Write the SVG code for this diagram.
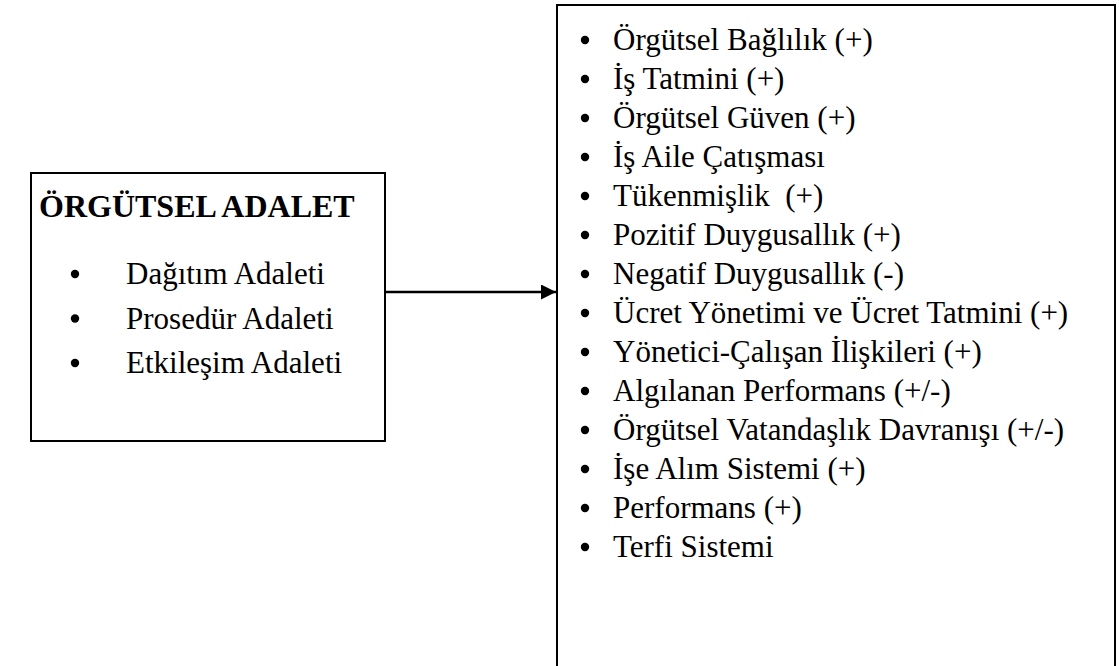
<svg xmlns="http://www.w3.org/2000/svg" width="1119" height="666" viewBox="0 0 1119 666">
  <style>
    .box { fill: #ffffff; stroke: #000000; stroke-width: 2; }
    .txt { font-family: "Liberation Serif", "Times New Roman", serif; font-size: 31px; fill: #000000; }
    .title { font-family: "Liberation Serif", "Times New Roman", serif; font-size: 32px; font-weight: bold; fill: #000000; }
    .dot { fill: #000000; }
    .link { stroke: #000000; stroke-width: 2.5; fill: none; }
  </style>
  <defs>
    <marker id="arrowhead" viewBox="0 0 10 10" refX="10" refY="5" markerWidth="6" markerHeight="6" orient="auto" markerUnits="strokeWidth">
      <path d="M0,0 L10,5 L0,10 Z" fill="#000000"/>
    </marker>
  </defs>
  <rect width="1119" height="666" fill="#ffffff"/>

  <!-- source concept -->
  <g id="orgutsel-adalet">
    <rect class="box" x="31" y="173" width="354" height="268"/>
    <text class="title" x="39" y="217">ÖRGÜTSEL ADALET</text>
    <circle class="dot" cx="75" cy="274" r="4.2"/>
    <text class="txt" x="126" y="284">Dağıtım Adaleti</text>
    <circle class="dot" cx="75" cy="318.5" r="4.2"/>
    <text class="txt" x="126" y="328.5">Prosedür Adaleti</text>
    <circle class="dot" cx="75" cy="363" r="4.2"/>
    <text class="txt" x="126" y="373">Etkileşim Adaleti</text>
  </g>

  <!-- outcomes -->
  <g id="sonuclar">
    <rect class="box" x="557" y="5" width="558" height="680"/>
    <g class="dot">
      <circle cx="585" cy="40" r="4.2"/>
      <circle cx="585" cy="79" r="4.2"/>
      <circle cx="585" cy="118" r="4.2"/>
      <circle cx="585" cy="157" r="4.2"/>
      <circle cx="585" cy="196" r="4.2"/>
      <circle cx="585" cy="235" r="4.2"/>
      <circle cx="585" cy="274" r="4.2"/>
      <circle cx="585" cy="313" r="4.2"/>
      <circle cx="585" cy="352" r="4.2"/>
      <circle cx="585" cy="391" r="4.2"/>
      <circle cx="585" cy="430" r="4.2"/>
      <circle cx="585" cy="469" r="4.2"/>
      <circle cx="585" cy="508" r="4.2"/>
      <circle cx="585" cy="547" r="4.2"/>
    </g>
    <text class="txt" x="613" y="50">Örgütsel Bağlılık (+)</text>
    <text class="txt" x="613" y="89">İş Tatmini (+)</text>
    <text class="txt" x="613" y="128">Örgütsel Güven (+)</text>
    <text class="txt" x="613" y="167">İş Aile Çatışması</text>
    <text class="txt" x="613" y="206" xml:space="preserve">Tükenmişlik  (+)</text>
    <text class="txt" x="613" y="245">Pozitif Duygusallık (+)</text>
    <text class="txt" x="613" y="284">Negatif Duygusallık (-)</text>
    <text class="txt" x="613" y="323">Ücret Yönetimi ve Ücret Tatmini (+)</text>
    <text class="txt" x="613" y="362">Yönetici-Çalışan İlişkileri (+)</text>
    <text class="txt" x="613" y="401">Algılanan Performans (+/-)</text>
    <text class="txt" x="613" y="440">Örgütsel Vatandaşlık Davranışı (+/-)</text>
    <text class="txt" x="613" y="479">İşe Alım Sistemi (+)</text>
    <text class="txt" x="613" y="518">Performans (+)</text>
    <text class="txt" x="613" y="557">Terfi Sistemi</text>
  </g>

  <!-- connectors -->
  <g id="connectors">
    <line class="link" x1="386" y1="292" x2="556" y2="292" marker-end="url(#arrowhead)"/>
  </g>
</svg>
